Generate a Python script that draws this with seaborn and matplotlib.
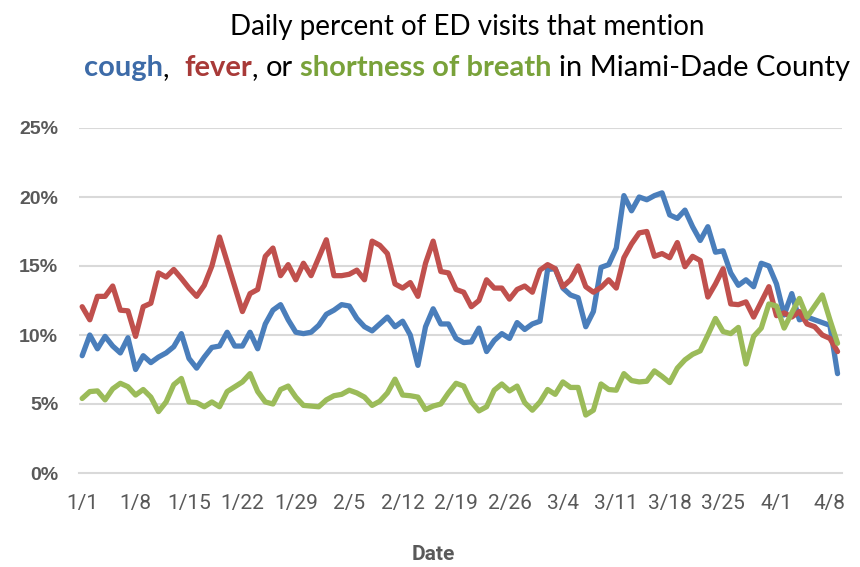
import matplotlib
matplotlib.use("Agg")
import numpy as np
import pandas as pd
import matplotlib.pyplot as plt
import seaborn as sns

# daily values (percent of ED visits), 1/1 .. 4/9
cough = [8.5, 10.0, 9.0, 9.9, 9.2, 8.7, 9.8, 7.5, 8.5, 8.0,
         8.4, 8.7, 9.15, 10.1, 8.3, 7.6, 8.4, 9.1, 9.2, 10.2,
         9.2, 9.2, 10.2, 9.0, 10.8, 11.8, 12.2, 11.1, 10.2, 10.1,
         10.2, 10.7, 11.5, 11.8, 12.2, 12.1, 11.2, 10.6, 10.3, 10.8,
         11.3, 10.6, 11.0, 10.0, 7.8, 10.6, 11.9, 10.8, 10.8, 9.75,
         9.45, 9.5, 10.5, 8.8, 9.6, 10.1, 9.75, 10.9, 10.4, 10.8,
         11.0, 14.75, 14.8, 13.4, 12.9, 12.7, 10.6, 11.7, 14.9, 15.1,
         16.3, 20.1, 19.0, 20.0, 19.8, 20.1, 20.3, 18.7, 18.45, 19.05,
         17.85, 16.85, 17.85, 16.0, 16.1, 14.5, 13.6, 14.0, 13.5, 15.2,
         15.0, 13.7, 11.45, 13.0, 11.1, 11.3, 11.1, 10.9, 10.7, 7.2]

fever = [12.05, 11.1, 12.8, 12.8, 13.55, 11.8, 11.75, 9.9, 12.05, 12.3,
         14.5, 14.2, 14.75, 14.1, 13.4, 12.8, 13.6, 15.0, 17.1, 15.3,
         13.5, 11.7, 13.0, 13.3, 15.7, 16.3, 14.3, 15.1, 14.0, 15.2,
         14.3, 15.6, 16.9, 14.3, 14.3, 14.4, 14.7, 14.0, 16.8, 16.5,
         15.9, 13.7, 13.4, 13.8, 12.8, 15.2, 16.8, 14.6, 14.5, 13.3,
         13.1, 12.05, 12.5, 14.0, 13.4, 13.4, 12.6, 13.3, 13.55, 13.1,
         14.7, 15.1, 14.8, 13.5, 14.0, 15.0, 13.5, 13.1, 13.45, 14.0,
         13.4, 15.6, 16.6, 17.4, 17.5, 15.7, 15.9, 15.6, 16.7, 14.95,
         15.7, 15.4, 12.75, 13.7, 14.8, 12.25, 12.2, 12.4, 11.3, 12.4,
         13.5, 11.4, 11.6, 11.3, 11.7, 10.8, 10.6, 10.0, 9.75, 8.8]

breath = [5.4, 5.9, 5.95, 5.3, 6.1, 6.5, 6.25, 5.65, 6.05, 5.5,
          4.45, 5.15, 6.4, 6.85, 5.15, 5.1, 4.8, 5.15, 4.8, 5.9,
          6.25, 6.6, 7.2, 5.9, 5.15, 5.0, 6.05, 6.3, 5.5, 4.9,
          4.85, 4.8, 5.3, 5.6, 5.7, 6.0, 5.8, 5.5, 4.9, 5.2,
          5.8, 6.8, 5.65, 5.6, 5.5, 4.6, 4.85, 5.0, 5.8, 6.5,
          6.3, 5.15, 4.5, 4.8, 6.0, 6.45, 5.95, 6.3, 5.1, 4.55,
          5.15, 6.05, 5.7, 6.6, 6.2, 6.2, 4.2, 4.55, 6.45, 6.05,
          6.0, 7.2, 6.7, 6.6, 6.65, 7.4, 7.0, 6.55, 7.6, 8.2,
          8.6, 8.85, 10.0, 11.2, 10.25, 10.1, 10.55, 7.9, 9.9, 10.5,
          12.25, 12.1, 10.5, 11.6, 12.65, 11.3, 12.1, 12.9, 11.1, 9.4]

tick_labels = ["1/1", "1/8", "1/15", "1/22", "1/29", "2/5", "2/12", "2/19",
               "2/26", "3/4", "3/11", "3/18", "3/25", "4/1", "4/8"]
y_ticks = [0, 5, 10, 15, 20, 25]

dates = pd.date_range("2020-01-01", periods=len(cough), freq="D")
df = pd.DataFrame({"date": dates, "cough": cough, "fever": fever,
                   "shortness of breath": breath})
long = df.melt(id_vars="date", var_name="symptom", value_name="pct")

line_colors = {"cough": "#4A7EBB", "fever": "#C0504D", "shortness of breath": "#9BBB59"}
title_colors = {"cough": "#3D6BA8", "fever": "#A83A38", "shortness of breath": "#79A23A"}
grey = "#595959"
grid = "#D9D9D9"

sns.set_style("white")
plt.rcParams["font.family"] = ["Lato", "DejaVu Sans"]

fig = plt.figure(figsize=(8.6, 5.67), dpi=100)
ax = fig.add_axes([79 / 860, 94 / 567, 763 / 860, 345 / 567])

sns.lineplot(data=long, x="date", y="pct", hue="symptom",
             hue_order=["cough", "fever", "shortness of breath"],
             palette=line_colors, linewidth=3.8, legend=False, ax=ax,
             solid_joinstyle="round", solid_capstyle="round")

# axes styling
ax.set_ylim(0, 25)
ax.set_yticks(y_ticks)
ax.set_yticklabels([f"{t}%" for t in y_ticks], fontsize=14, fontweight="bold",
                   color=grey, family=["Liberation Sans", "DejaVu Sans"])
for t in y_ticks[1:]:
    ax.axhline(t, color=grid, lw=1.5, zorder=0)

tick_dates = [pd.Timestamp(2020, int(s.split("/")[0]), int(s.split("/")[1])) for s in tick_labels]
ax.set_xticks(tick_dates)
ax.set_xticklabels(tick_labels, fontsize=15, color=grey,
                   family=["Liberation Sans Narrow", "Roboto", "DejaVu Sans"])
ax.set_xlim(dates[0] - pd.Timedelta(hours=10), dates[-1] + pd.Timedelta(hours=14))

for s in ["top", "right", "left"]:
    ax.spines[s].set_visible(False)
ax.spines["bottom"].set_color(grid)
ax.spines["bottom"].set_linewidth(1.5)
ax.tick_params(axis="x", length=6, width=1.5, color=grid, pad=9)
ax.tick_params(axis="y", length=0, pad=15)
ax.set_xlabel("")
ax.set_ylabel("")
ax.grid(False)

fig.text(433 / 860, 1 - 555 / 567, "Date", ha="center", va="center", fontsize=15,
         color=grey, fontweight="bold", family=["Liberation Sans Narrow", "Roboto", "DejaVu Sans"])

# title
cx = 467 / 860
fig.text(cx, 1 - 27 / 567, "Daily percent of ED visits that mention", ha="center",
         va="center", fontsize=20, color="black")

title_size = 21
segments = [("cough", "bold", title_colors["cough"], 0),
            (",", "normal", "black", 0),
            ("fever", "bold", title_colors["fever"], 2),
            (",", "normal", "black", 0),
            ("or", "normal", "black", 1),
            ("shortness of breath", "bold", title_colors["shortness of breath"], 1),
            ("in Miami-Dade County", "normal", "black", 1)]

fig.canvas.draw()
r = fig.canvas.get_renderer()
probe_a = fig.text(0, 0, "xx", fontsize=title_size)
probe_b = fig.text(0, 0, "x x", fontsize=title_size)
space_w = probe_b.get_window_extent(r).width - probe_a.get_window_extent(r).width
probe_a.remove()
probe_b.remove()

y2 = 1 - 68 / 567
texts = []
total = 0
for txt, w, c, gap in segments:
    t = fig.text(0, y2, txt, fontsize=title_size, fontweight=w, color=c, va="center")
    width = t.get_window_extent(r).width
    total += gap * space_w + width
    texts.append((t, gap, width))

x = cx * 860 - total / 2
for t, gap, width in texts:
    x += gap * space_w
    t.set_x(x / 860)
    x += width

fig.savefig("out.png", dpi=100)
